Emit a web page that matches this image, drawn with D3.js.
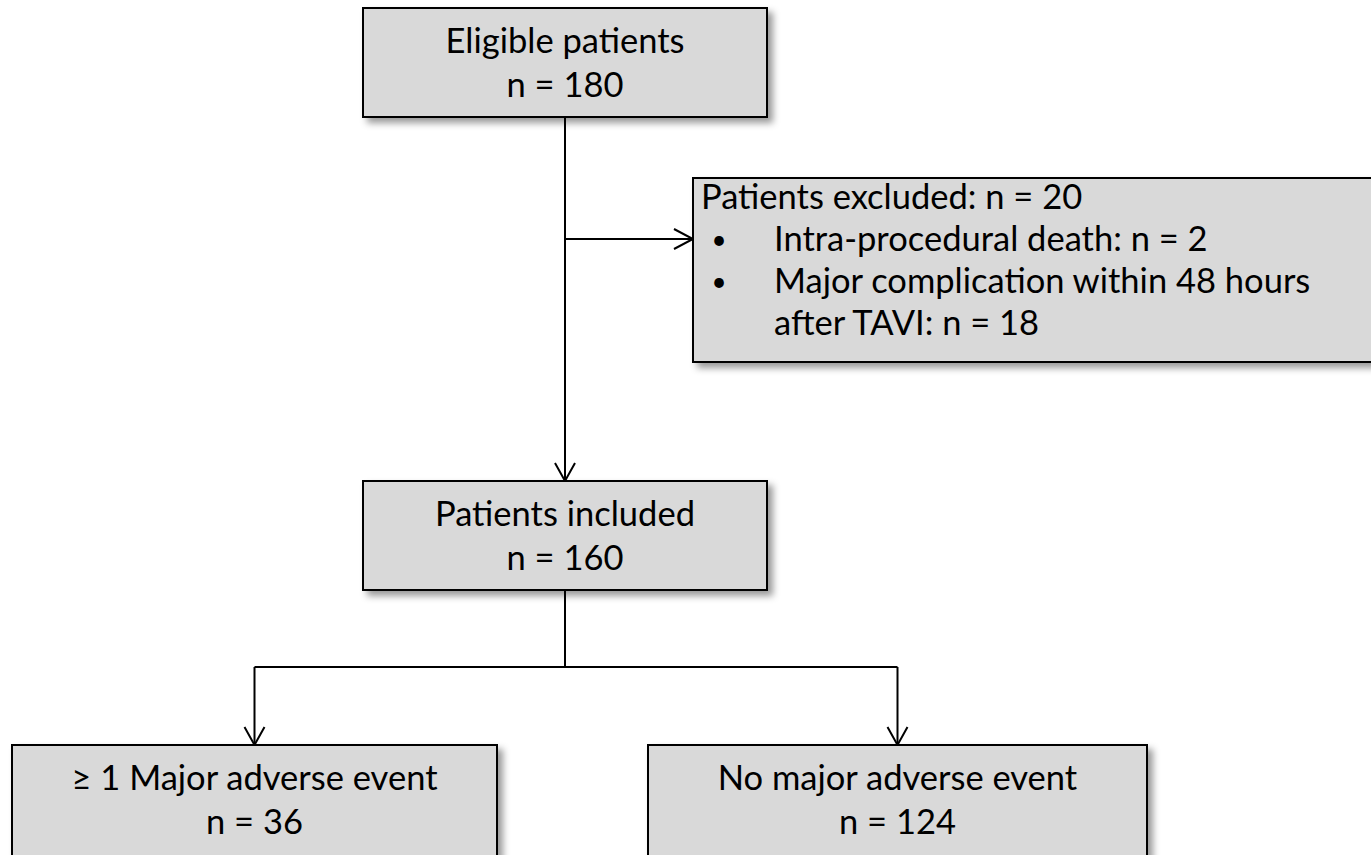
<!DOCTYPE html>
<html>
<head>
<meta charset="utf-8">
<script src="https://cdn.jsdelivr.net/npm/d3@7"></script>
<style>
  body { margin: 0; background: #fff; overflow: hidden; }
  text { font-family: Lato, "Open Sans", sans-serif; fill: #000; }
</style>
</head>
<body>
<script>
// flow chart data
const boxLabels = ["Eligible patients", "Patients included", "\u2265 1 Major adverse event", "No major adverse event"];
const boxCounts = [180, 160, 36, 124];
const excludedTitle = "Patients excluded";
const excludedCount = 20;
const excludedLines = [
  { bullet: true, text: "Intra-procedural death: n = 2" },
  { bullet: true, text: "Major complication within 48 hours" },
  { bullet: false, text: "after TAVI: n = 18" }
];

const w = 1371, h = 855;
const fontSize = 34.5;

const svg = d3.select("body").append("svg")
  .attr("width", w)
  .attr("height", h);

const defs = svg.append("defs");
const shadow = defs.append("filter").attr("id", "shadow")
  .attr("x", "-10%").attr("y", "-10%").attr("width", "130%").attr("height", "140%");
shadow.append("feDropShadow")
  .attr("dx", 5).attr("dy", 5).attr("stdDeviation", 3.5)
  .attr("flood-color", "#000").attr("flood-opacity", 0.4);

// box geometry
const boxes = [
  { x: 363, y: 8, w: 404, h: 109 },
  { x: 363, y: 481, w: 404, h: 109 },
  { x: 12, y: 745, w: 485, h: 112 },
  { x: 648, y: 745, w: 499, h: 112 }
];
const exBox = { x: 693, y: 178, w: 700, h: 184 };

const cx = d => d.x + d.w / 2;

// connectors
const lines = svg.append("g").attr("fill", "none").attr("stroke", "#000").attr("stroke-width", 2);
const midX = cx(boxes[0]);
const armY = 239;
const splitY = 667;

lines.append("line").attr("x1", midX).attr("y1", boxes[0].y + boxes[0].h).attr("x2", midX).attr("y2", boxes[1].y);
lines.append("line").attr("x1", midX).attr("y1", armY).attr("x2", exBox.x).attr("y2", armY);
lines.append("line").attr("x1", midX).attr("y1", boxes[1].y + boxes[1].h).attr("x2", midX).attr("y2", splitY);
lines.append("line").attr("x1", cx(boxes[2])).attr("y1", splitY).attr("x2", cx(boxes[3])).attr("y2", splitY);
[boxes[2], boxes[3]].forEach(b => {
  lines.append("line").attr("x1", cx(b)).attr("y1", splitY).attr("x2", cx(b)).attr("y2", b.y);
});

// open arrow heads
const line = d3.line();
function headDown(x, y) {
  lines.append("path").attr("d", line([[x - 10, y - 18], [x, y], [x + 10, y - 18]]));
}
function headRight(x, y) {
  lines.append("path").attr("d", line([[x - 19, y - 10], [x, y], [x - 19, y + 10]]));
}
headDown(midX, boxes[1].y);
headDown(cx(boxes[2]), boxes[2].y);
headDown(cx(boxes[3]), boxes[3].y);
headRight(exBox.x, armY);

// main boxes
const g = svg.selectAll("g.box")
  .data(boxes.map((b, i) => Object.assign({ label: boxLabels[i], n: boxCounts[i] }, b)))
  .enter().append("g").attr("class", "box");

g.append("rect")
  .attr("x", d => d.x).attr("y", d => d.y)
  .attr("width", d => d.w).attr("height", d => d.h)
  .attr("fill", "#d9d9d9").attr("stroke", "#000").attr("stroke-width", 2)
  .attr("filter", "url(#shadow)");

g.append("text")
  .attr("x", d => cx(d)).attr("y", d => d.y + 45)
  .attr("text-anchor", "middle").attr("font-size", fontSize)
  .text(d => d.label);
g.append("text")
  .attr("x", d => cx(d)).attr("y", d => d.y + 89)
  .attr("text-anchor", "middle").attr("font-size", fontSize)
  .text(d => "n = " + d.n);

// excluded box
const ex = svg.append("g");
ex.append("rect")
  .attr("x", exBox.x).attr("y", exBox.y)
  .attr("width", exBox.w).attr("height", exBox.h)
  .attr("fill", "#d9d9d9").attr("stroke", "#000").attr("stroke-width", 2)
  .attr("filter", "url(#shadow)");

const exTop = 209, exStep = 42;
ex.append("text")
  .attr("x", exBox.x + 8).attr("y", exTop)
  .attr("font-size", fontSize)
  .text(excludedTitle + ": n = " + excludedCount);

excludedLines.forEach((l, i) => {
  const y = exTop + exStep * (i + 1);
  if (l.bullet) {
    ex.append("text").attr("x", exBox.x + 26).attr("y", y - 2)
      .attr("font-size", 26).attr("text-anchor", "middle").text("\u2022");
  }
  ex.append("text").attr("x", exBox.x + 81).attr("y", y)
    .attr("font-size", fontSize).text(l.text);
});
</script>
</body>
</html>
